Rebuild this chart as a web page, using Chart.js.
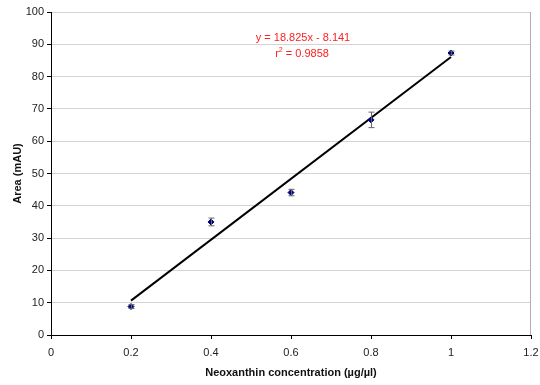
<!DOCTYPE html>
<html>
<head>
<meta charset="utf-8">
<script src="https://cdn.jsdelivr.net/npm/chart.js@4/dist/chart.umd.min.js"></script>
<style>
  html, body { margin: 0; padding: 0; background: #fff; }
  #wrap { width: 540px; height: 385px; }
</style>
</head>
<body>
<div id="wrap"><canvas id="chart1"></canvas></div>
<script>
// concentration (ug/ul) and measured peak area (mAU)
const concentration = [0.2, 0.4, 0.6, 0.8, 1.0]
const area = [8.8, 35.0, 44.1, 66.6, 87.3]
const areaErr = [0.6, 1.2, 1.0, 2.4, 0.6]

const xTicks = [0, 0.2, 0.4, 0.6, 0.8, 1, 1.2]
const yTicks = [0, 10, 20, 30, 40, 50, 60, 70, 80, 90, 100]

const eqText = 'y = 18.825x - 8.141'
const r2Text = ' = 0.9858'

// least squares line through the points
var n = concentration.length
var mx = concentration.reduce((a, b) => a + b, 0) / n
var my = area.reduce((a, b) => a + b, 0) / n
var sxy = 0, sxx = 0
for (var i = 0; i < n; i++) {
  sxy += (concentration[i] - mx) * (area[i] - my)
  sxx += (concentration[i] - mx) * (concentration[i] - mx)
}
var slope = sxy / sxx
var intercept = my - slope * mx
var xFirst = concentration[0]
var xLast = concentration[n - 1]

var points = concentration.map((x, i) => ({ x: x, y: area[i] }))
var fitLine = [
  { x: xFirst, y: slope * xFirst + intercept },
  { x: xLast, y: slope * xLast + intercept },
]

const errorBars = {
  id: 'errorBars',
  afterDatasetsDraw(chart) {
    var ctx = chart.ctx
    var xs = chart.scales.x
    var ys = chart.scales.y
    ctx.save()
    ctx.strokeStyle = '#666'
    ctx.lineWidth = 1
    for (var i = 0; i < concentration.length; i++) {
      var px = Math.round(xs.getPixelForValue(concentration[i])) + 0.5
      var top = ys.getPixelForValue(area[i] + areaErr[i])
      var bot = ys.getPixelForValue(area[i] - areaErr[i])
      ctx.beginPath()
      ctx.moveTo(px, top)
      ctx.lineTo(px, bot)
      ctx.moveTo(px - 3, top)
      ctx.lineTo(px + 3, top)
      ctx.moveTo(px - 3, bot)
      ctx.lineTo(px + 3, bot)
      ctx.stroke()
    }
    ctx.restore()
  },
}

// grey frame line on the right side of the plot area
const rightEdge = {
  id: 'rightEdge',
  beforeDatasetsDraw(chart) {
    var a = chart.chartArea
    var ctx = chart.ctx
    ctx.save()
    ctx.strokeStyle = '#b0b0b0'
    ctx.lineWidth = 1
    ctx.beginPath()
    ctx.moveTo(Math.round(a.right) - 0.5, a.top)
    ctx.lineTo(Math.round(a.right) - 0.5, a.bottom)
    ctx.stroke()
    ctx.restore()
  },
}

const equationLabel = {
  id: 'equationLabel',
  afterDraw(chart) {
    var ctx = chart.ctx
    ctx.save()
    ctx.fillStyle = '#ff2020'
    ctx.font = '11px "Liberation Sans", Arial, sans-serif'
    ctx.textBaseline = 'middle'
    ctx.textAlign = 'center'
    ctx.fillText(eqText, 303, 38)
    // r² with a raised small 2
    var wR = ctx.measureText('r').width
    var wRest = ctx.measureText(r2Text).width
    ctx.font = '7px "Liberation Sans", Arial, sans-serif'
    var w2 = ctx.measureText('2').width
    var start = 302 - (wR + w2 + wRest) / 2
    ctx.textAlign = 'left'
    ctx.fillText('2', start + wR, 50)
    ctx.font = '11px "Liberation Sans", Arial, sans-serif'
    ctx.fillText('r', start, 54)
    ctx.fillText(r2Text, start + wR + w2, 54)
    ctx.restore()
  },
}

const config1 = {
  type: 'scatter',
  data: {
    datasets: [
      {
        label: 'Area',
        data: points,
        pointStyle: 'rectRot',
        pointRadius: 3,
        backgroundColor: '#000080',
        borderColor: '#000080',
        borderWidth: 1,
        order: 1,
      },
      {
        label: 'Linear fit',
        type: 'line',
        data: fitLine,
        borderColor: '#000',
        borderWidth: 2,
        pointRadius: 0,
        fill: false,
        order: 2,
      },
    ],
  },
  plugins: [rightEdge, errorBars, equationLabel],
  options: {
    responsive: false,
    animation: false,
    layout: { padding: { top: 12, right: 9, left: 0, bottom: 0 } },
    plugins: {
      legend: { display: false },
      tooltip: { enabled: false },
    },
    scales: {
      x: {
        type: 'linear',
        min: 0,
        max: 1.2,
        afterBuildTicks: (axis) => { axis.ticks = xTicks.map((v) => ({ value: v })) },
        afterFit: (axis) => {
          axis.height = 50
          axis.paddingLeft = 0
          axis.paddingRight = 0
        },
        border: { color: '#000', width: 1 },
        grid: { drawOnChartArea: false, tickLength: 4, tickColor: '#000' },
        ticks: {
          color: '#222',
          font: { family: '"Liberation Sans", Arial', size: 11 },
          padding: 7,
          maxRotation: 0,
          callback: (v) => String(v),
        },
        title: {
          display: true,
          text: 'Neoxanthin concentration (µg/µl)',
          color: '#111',
          font: { family: '"Liberation Sans", Arial', size: 11, weight: 'bold' },
          padding: { top: 6, bottom: 5 },
        },
      },
      y: {
        min: 0,
        max: 100,
        afterBuildTicks: (axis) => { axis.ticks = yTicks.map((v) => ({ value: v })) },
        afterFit: (axis) => {
          axis.width = 51
          axis.paddingTop = 0
          axis.paddingBottom = 0
        },
        border: { color: '#000', width: 1 },
        grid: { color: '#d4d4d4', tickLength: 4, tickColor: '#000' },
        ticks: {
          color: '#222',
          font: { family: '"Liberation Sans", Arial', size: 11 },
          padding: 3,
        },
        title: {
          display: true,
          text: 'Area (mAU)',
          color: '#111',
          font: { family: '"Liberation Sans", Arial', size: 11, weight: 'bold' },
          padding: { top: 11, bottom: 4 },
        },
      },
    },
  },
}

var canvas = document.getElementById('chart1')
canvas.width = 540
canvas.height = 385
var chart1 = new Chart(canvas.getContext('2d'), config1)
</script>
</body>
</html>
